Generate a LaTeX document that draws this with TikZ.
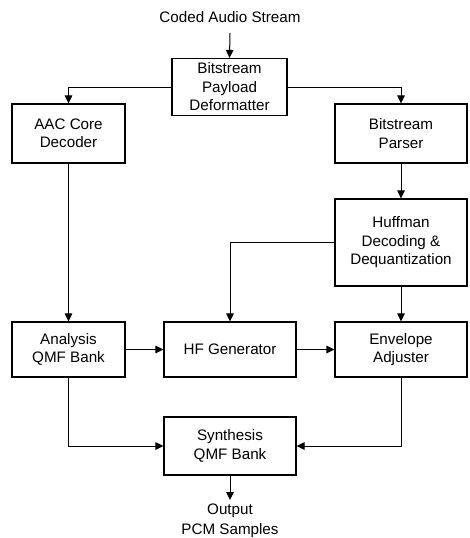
\documentclass[tikz,border=0pt]{standalone}
\usepackage{fontspec}
\setmainfont{Liberation Sans}
\usetikzlibrary{arrows.meta}
\begin{document}
\begin{tikzpicture}[x=1pt,y=-1pt,
  font=\fontsize{15.2}{18.5}\selectfont,
  blk/.style={draw, line width=1.1pt, align=center, inner sep=0pt},
  conn/.style={line width=1pt, -{Triangle[length=8pt,width=7.5pt]}},
  lbl/.style={align=center, inner sep=0pt}]
\useasboundingbox (0,0) rectangle (470,538);

% signal-flow blocks
\node[blk, minimum width=115pt, minimum height=57pt] (deform) at (229.5,87) {Bitstream\\Payload\\Deformatter};
\node[blk, minimum width=113pt, minimum height=59pt] (aac) at (68.5,133.5) {AAC Core\\Decoder};
\node[blk, minimum width=132pt, minimum height=59pt] (parser) at (401,133.5) {Bitstream\\Parser};
\node[blk, minimum width=132pt, minimum height=87pt] (huff) at (401,242.5) {Huffman\\Decoding \&\\Dequantization};
\node[blk, minimum width=113pt, minimum height=55pt] (analysis) at (68.5,349.5) {Analysis\\QMF Bank};
\node[blk, minimum width=132pt, minimum height=55pt] (hfgen) at (230,349.5) {HF Generator};
\node[blk, minimum width=132pt, minimum height=55pt] (env) at (401,349.5) {Envelope\\Adjuster};
\node[blk, minimum width=132pt, minimum height=58pt] (synth) at (230,446) {Synthesis\\QMF Bank};

% input and output labels
\node[lbl] (input) at (230,17) {Coded Audio Stream};
\coordinate (instart) at (230,33);
\coordinate (outend) at (230,500);
\node[lbl, font=\fontsize{15.2}{19.5}\selectfont] (output) at (230,521) {Output\\PCM Samples};

% connectors
\draw[conn] (instart) -- (deform.north);
\draw[conn] (deform.west) -| (aac.north);
\draw[conn] (deform.east) -| (parser.north);
\draw[conn] (parser.south) -- (huff.north);
\draw[conn] (huff.west) -| (hfgen.north);
\draw[conn] (huff.south) -- (env.north);
\draw[conn] (aac.south) -- (analysis.north);
\draw[conn] (analysis.east) -- (hfgen.west);
\draw[conn] (hfgen.east) -- (env.west);
\draw[conn] (analysis.south) |- (synth.west);
\draw[conn] (env.south) |- (synth.east);
\draw[conn] (synth.south) -- (outend);
\end{tikzpicture}
\end{document}
